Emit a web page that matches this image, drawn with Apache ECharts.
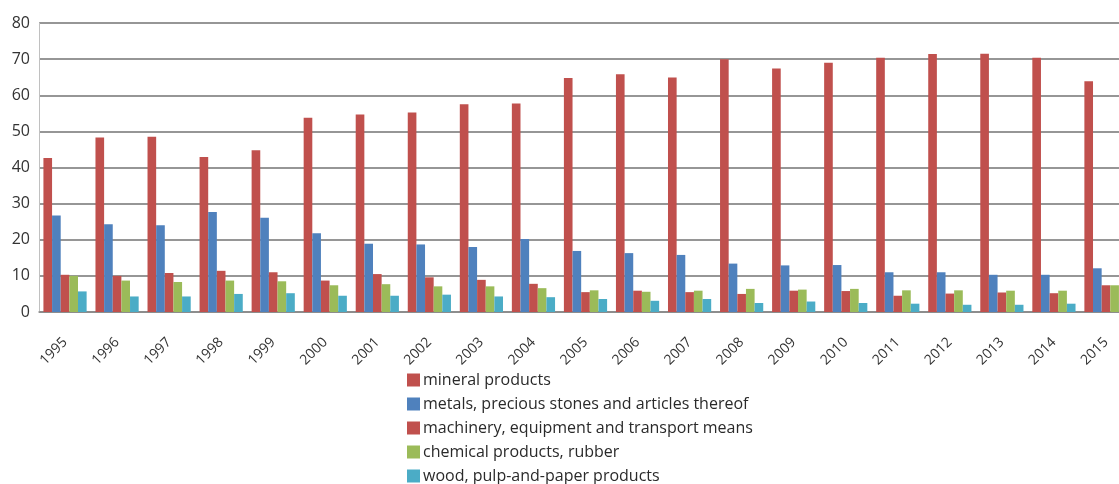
<!DOCTYPE html>
<html>
<head>
<meta charset="utf-8">
<script src="https://cdn.jsdelivr.net/npm/echarts@6/dist/echarts.min.js"></script>
<style>
  html, body { margin: 0; padding: 0; background: #ffffff; }
  #chart { width: 1119px; height: 484px; }
</style>
</head>
<body>
<div id="chart"></div>
<script>
// Export structure by commodity group, %, 1995–2015
const years = ['1995','1996','1997','1998','1999','2000','2001','2002','2003','2004',
               '2005','2006','2007','2008','2009','2010','2011','2012','2013','2014','2015'];

const mineral   = [42.6, 48.3, 48.5, 42.9, 44.8, 53.8, 54.7, 55.2, 57.5, 57.7,
                   64.8, 65.8, 64.9, 70.0, 67.4, 69.0, 70.4, 71.4, 71.5, 70.4, 63.9];
const metals    = [26.7, 24.3, 24.0, 27.7, 26.1, 21.8, 18.9, 18.7, 18.0, 20.2,
                   16.9, 16.3, 15.8, 13.4, 12.9, 13.0, 11.0, 11.0, 10.3, 10.3, 12.1];
const machinery = [10.3, 10.0, 10.8, 11.4, 11.0, 8.7, 10.5, 9.6, 8.9, 7.8,
                   5.5, 5.9, 5.5, 5.0, 5.9, 5.8, 4.5, 5.1, 5.4, 5.2, 7.4];
const chemical  = [10.0, 8.7, 8.3, 8.7, 8.5, 7.4, 7.7, 7.1, 7.1, 6.6,
                   6.0, 5.6, 5.9, 6.4, 6.2, 6.4, 6.0, 6.0, 5.9, 5.9, 7.4];
const wood      = [5.7, 4.3, 4.3, 5.0, 5.2, 4.5, 4.5, 4.8, 4.3, 4.1,
                   3.6, 3.1, 3.6, 2.5, 2.9, 2.5, 2.3, 2.0, 2.0, 2.3, 2.9];

const seriesNames = [
  'mineral products',
  'metals, precious stones and articles thereof',
  'machinery, equipment and transport means',
  'chemical products, rubber',
  'wood, pulp-and-paper products'
];
const seriesData = [mineral, metals, machinery, chemical, wood];
const palette = ['#C0504D', '#4F81BD', '#C0504D', '#9BBB59', '#4BACC6'];

const chart = echarts.init(document.getElementById('chart'), null, { renderer: 'canvas' });

chart.setOption({
  animation: false,
  backgroundColor: '#ffffff',
  textStyle: { fontFamily: '"Open Sans", "DejaVu Sans", sans-serif' },
  // plot area runs past the right edge, so the last year group is cut off
  grid: { left: 39, right: -13, top: 23, bottom: 172, containLabel: false, outerBoundsMode: 'none' },
  legend: {
    orient: 'vertical',
    left: 407,
    top: 372,
    height: 140,
    padding: 0,
    itemWidth: 13,
    itemHeight: 13,
    itemGap: 8,
    icon: 'rect',
    textStyle: { fontSize: 16, color: '#2a2a2a', lineHeight: 16, padding: [0, 0, 0, -2] },
    data: seriesNames
  },
  xAxis: {
    type: 'category',
    data: years,
    axisLine: { lineStyle: { color: '#8a8a8a', width: 1.5 } },
    axisTick: { show: false },
    axisLabel: { rotate: 45, margin: 28, fontSize: 14, color: '#333333', interval: 0 }
  },
  yAxis: {
    type: 'value',
    min: 0,
    max: 80,
    interval: 10,
    axisLine: { show: true, lineStyle: { color: '#c0c0c0', width: 1 } },
    axisTick: { show: false },
    axisLabel: { fontSize: 16, color: '#333333', margin: 9 },
    splitLine: { lineStyle: { color: '#737373', width: 1.5 } }
  },
  series: seriesData.map((d, i) => ({
    name: seriesNames[i],
    type: 'bar',
    data: d,
    barGap: '0%',
    barCategoryGap: '17%',
    itemStyle: { color: palette[i] }
  }))
});
</script>
</body>
</html>
